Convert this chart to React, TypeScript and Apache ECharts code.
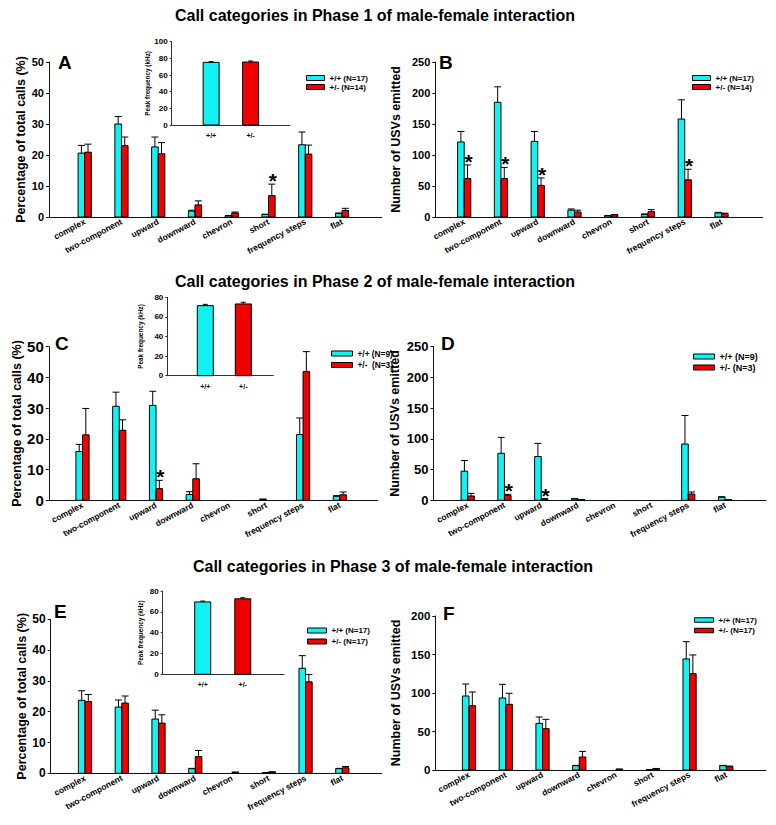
import React, { useEffect, useRef } from 'react';
import * as echarts from 'echarts';

const CATEGORIES = ['complex', 'two-component', 'upward', 'downward', 'chevron', 'short', 'frequency steps', 'flat'];
const GENOTYPES = ['+/+', '+/-'];
const TITLES = [
  'Call categories in Phase 1 of male-female interaction',
  'Call categories in Phase 2 of male-female interaction',
  'Call categories in Phase 3 of male-female interaction',
];
const Y_PCT = 'Percentage of total calls (%)';
const Y_NUM = 'Number of USVs emitted';
const Y_PEAK = 'Peak frequency (kHz)';

// Phase 1
const P1_PCT_WT = [20.6, 30.0, 22.6, 1.9, 0.4, 0.8, 23.3, 1.1];
const P1_PCT_WT_SEM = [2.5, 2.4, 3.2, 0.3, 0.1, 0.1, 4.1, 0.2];
const P1_PCT_HET = [20.9, 23.0, 20.4, 3.9, 1.3, 6.9, 20.3, 2.1];
const P1_PCT_HET_SEM = [2.6, 2.8, 3.6, 1.3, 0.3, 3.7, 2.9, 0.7];
const P1_PCT_STARS = [5];
const P1_NUM_WT = [121, 185, 122, 11, 2, 4, 158, 6.5];
const P1_NUM_WT_SEM = [17, 25, 16, 2, 0.5, 1, 31, 1];
const P1_NUM_HET = [62, 62, 51, 8, 3.5, 8.6, 60, 5.4];
const P1_NUM_HET_SEM = [22, 18, 12, 3, 0.6, 3.2, 17, 0.8];
const P1_NUM_STARS = [0, 1, 2, 6];
const P1_PEAK = [75.2, 75.6];
const P1_PEAK_SEM = [0.8, 1.2];

// Phase 2
const P2_PCT_WT = [15.9, 30.6, 30.9, 1.9, 0, 0.3, 21.4, 1.3];
const P2_PCT_WT_SEM = [2.3, 4.6, 4.6, 0.9, 0, 0.1, 5.4, 0.2];
const P2_PCT_HET = [21.3, 22.8, 3.8, 7.0, 0, 0, 41.9, 1.8];
const P2_PCT_HET_SEM = [8.6, 3.4, 2.7, 4.9, 0, 0, 6.5, 0.9];
const P2_PCT_STARS = [2];
const P2_NUM_WT = [47.4, 76.5, 71.2, 2.2, 0, 0, 91.6, 4.9];
const P2_NUM_WT_SEM = [17.3, 25.9, 21.5, 0.5, 0, 0, 46.4, 1.0];
const P2_NUM_HET = [7, 8.1, 2.2, 1.1, 0, 0, 10.2, 1.1];
const P2_NUM_HET_SEM = [4.3, 1.6, 0.3, 0.2, 0, 0, 3.3, 0.2];
const P2_NUM_STARS = [1, 2];
const P2_PEAK = [71.5, 73.2];
const P2_PEAK_SEM = [1.3, 1.7];

// Phase 3
const P3_PCT_WT = [23.7, 21.5, 17.6, 1.5, 0, 0.2, 34.1, 1.5];
const P3_PCT_WT_SEM = [3.1, 2.3, 2.9, 0.1, 0, 0.05, 4.1, 0.1];
const P3_PCT_HET = [23.3, 22.8, 16.3, 5.4, 0.3, 0.4, 29.7, 1.8];
const P3_PCT_HET_SEM = [2.3, 2.3, 2.7, 2.0, 0.1, 0.1, 2.4, 0.4];
const P3_PCT_STARS: number[] = [];
const P3_NUM_WT = [96.1, 93.5, 60.6, 5.6, 0, 0.4, 144.2, 5.6];
const P3_NUM_WT_SEM = [15.6, 17.8, 8.2, 0.4, 0, 0.1, 22.5, 0.4];
const P3_NUM_HET = [83.5, 85.3, 53.7, 16.9, 1.0, 1.7, 125.1, 4.3];
const P3_NUM_HET_SEM = [17.8, 14.3, 12.1, 7.3, 0.2, 0.3, 24.3, 0.8];
const P3_NUM_STARS: number[] = [];
const P3_PEAK = [69.5, 72.5];
const P3_PEAK_SEM = [0.8, 1.0];

const FONT = '"Liberation Sans", Arial, Helvetica, sans-serif';
const CYAN = '#12f2f2';
const RED = '#f00000';
const SP = 36.76;

const MAIN = [
  { letter: 'A', wt: P1_PCT_WT, wtSem: P1_PCT_WT_SEM, het: P1_PCT_HET, hetSem: P1_PCT_HET_SEM, stars: P1_PCT_STARS,
    names: ['+/+ (N=17)', '+/- (N=14)'], yName: Y_PCT, yMax: 50, yStep: 10,
    box: { left: 49, top: 62, right: 381.7, bottom: 217, first: 84.7 }, tickFont: 11, nameGap: 19,
    lg: { left: 306, top: 73.5, w: 18, h: 5, font: 8, lh: 9 }, lt: { x: 58, y: 62 } },
  { letter: 'B', wt: P1_NUM_WT, wtSem: P1_NUM_WT_SEM, het: P1_NUM_HET, hetSem: P1_NUM_HET_SEM, stars: P1_NUM_STARS,
    names: ['+/+ (N=17)', '+/- (N=14)'], yName: Y_NUM, yMax: 250, yStep: 50,
    box: { left: 435.3, top: 62, right: 762.7, bottom: 217, first: 464.2 }, tickFont: 11, nameGap: 33,
    lg: { left: 692, top: 73.5, w: 18, h: 5, font: 8, lh: 9 }, lt: { x: 439, y: 62 } },
  { letter: 'C', wt: P2_PCT_WT, wtSem: P2_PCT_WT_SEM, het: P2_PCT_HET, hetSem: P2_PCT_HET_SEM, stars: P2_PCT_STARS,
    names: ['+/+ (N=9)', '+/-  (N=3)'], yName: Y_PCT, yMax: 50, yStep: 10,
    box: { left: 48.8, top: 346.7, right: 378, bottom: 500.3, first: 82.5 }, tickFont: 15, nameGap: 21,
    lg: { left: 331, top: 347.75, w: 21, h: 5, font: 8.3, lh: 11.5 }, lt: { x: 55, y: 343 } },
  { letter: 'D', wt: P2_NUM_WT, wtSem: P2_NUM_WT_SEM, het: P2_NUM_HET, hetSem: P2_NUM_HET_SEM, stars: P2_NUM_STARS,
    names: ['+/+ (N=9)', '+/- (N=3)'], yName: Y_NUM, yMax: 250, yStep: 50,
    box: { left: 433.5, top: 346.7, right: 766, bottom: 500.3, first: 467.7 }, tickFont: 13, nameGap: 32,
    lg: { left: 693, top: 351, w: 21, h: 5, font: 9, lh: 11 }, lt: { x: 441, y: 343 } },
  { letter: 'E', wt: P3_PCT_WT, wtSem: P3_PCT_WT_SEM, het: P3_PCT_HET, hetSem: P3_PCT_HET_SEM, stars: P3_PCT_STARS,
    names: ['+/+ (N=17)', '+/- (N=17)'], yName: Y_PCT, yMax: 50, yStep: 10,
    box: { left: 50.7, top: 619.3, right: 381.7, bottom: 773.3, first: 85 }, tickFont: 12, nameGap: 21,
    lg: { left: 307, top: 625, w: 19, h: 5, font: 8, lh: 11 }, lt: { x: 54, y: 611.7 } },
  { letter: 'F', wt: P3_NUM_WT, wtSem: P3_NUM_WT_SEM, het: P3_NUM_HET, hetSem: P3_NUM_HET_SEM, stars: P3_NUM_STARS,
    names: ['+/+ (N=17)', '+/- (N=17)'], yName: Y_NUM, yMax: 200, yStep: 50,
    box: { left: 435.3, top: 616, right: 766, bottom: 770, first: 469 }, tickFont: 11.5, nameGap: 33,
    lg: { left: 694, top: 614.75, w: 19, h: 4.5, font: 8, lh: 10.5 }, lt: { x: 443, y: 613 } },
];

const INSETS = [
  { vals: P1_PEAK, sem: P1_PEAK_SEM, box: { left: 171.7, top: 41.7, right: 290, bottom: 125 }, xMax: 3, yMax: 100, nameGap: 20.5 },
  { vals: P2_PEAK, sem: P2_PEAK_SEM, box: { left: 167.3, top: 297.3, right: 273.3, bottom: 375.7 }, xMax: 2.79, yMax: 80, nameGap: 24 },
  { vals: P3_PEAK, sem: P3_PEAK_SEM, box: { left: 162.7, top: 591, right: 284, bottom: 674.3 }, xMax: 3.03, yMax: 80, nameGap: 19.5 },
];

const TITLE_POS = [
  { x: 375, y: 15 },
  { x: 375, y: 281.7 },
  { x: 393, y: 566.7 },
];

function makeRenderer(mode: 'left' | 'right' | 'center', barW: number, capHalf: number) {
  return (params: any, api: any) => {
    const x = api.value(0);
    const v = api.value(1);
    const e = api.value(2);
    const star = api.value(3);
    const ci = api.value(4);
    const base = api.coord([x, 0]);
    const top = api.coord([x, v]);
    const et = api.coord([x, v + e]);
    const left = mode === 'left' ? base[0] - barW : mode === 'right' ? base[0] : base[0] - barW / 2;
    const cx = left + barW / 2;
    const fill = mode === 'center' ? (ci ? RED : CYAN) : mode === 'left' ? CYAN : RED;
    const children: any[] = [];
    if (v > 0) {
      children.push({
        type: 'rect',
        shape: { x: left, y: top[1], width: barW, height: Math.max(base[1] - top[1], 0.8) },
        style: { fill, stroke: '#000', lineWidth: 1 },
      });
    }
    if (e > 0) {
      children.push({ type: 'line', shape: { x1: cx, y1: top[1], x2: cx, y2: et[1] }, style: { stroke: '#000', lineWidth: 1 } });
      children.push({ type: 'line', shape: { x1: cx - capHalf, y1: et[1], x2: cx + capHalf, y2: et[1] }, style: { stroke: '#000', lineWidth: 1 } });
    }
    if (star) {
      children.push({
        type: 'text',
        style: { text: '*', x: cx + 1, y: et[1] - 3.5, fill: '#000', fontSize: 21, fontWeight: 'bold', fontFamily: FONT, align: 'center', verticalAlign: 'middle' },
      });
    }
    return { type: 'group', children };
  };
}

function buildOption() {
  const grid: any[] = [];
  const xAxis: any[] = [];
  const yAxis: any[] = [];
  const series: any[] = [];
  const legend: any[] = [];
  const graphic: any[] = [];

  MAIN.forEach((p, i) => {
    const b = p.box;
    grid.push({ left: b.left, top: b.top, width: b.right - b.left, height: b.bottom - b.top, containLabel: false, outerBoundsMode: 'none' });
    xAxis.push({
      gridIndex: i, type: 'value',
      min: -(b.first - b.left) / SP, max: (b.right - b.first) / SP,
      axisLine: { show: true, onZero: false, lineStyle: { color: '#111', width: 1 } },
      axisTick: { show: false }, splitLine: { show: false },
      axisLabel: { show: false },
    });
    yAxis.push({
      gridIndex: i, type: 'value', min: 0, max: p.yMax, interval: p.yStep,
      axisLine: { show: true, onZero: false, lineStyle: { color: '#111', width: 1 } },
      axisTick: { show: true, length: 3, lineStyle: { color: '#111' } },
      splitLine: { show: false },
      axisLabel: { fontSize: p.tickFont, fontWeight: 'bold', fontFamily: FONT, color: '#000', margin: 5 },
      name: p.yName, nameLocation: 'middle', nameGap: p.nameGap,
      nameTextStyle: { fontSize: 12.5, fontWeight: 'bold', fontFamily: FONT, color: '#000' },
    });
    const mk = (vals: number[], sems: number[], stars: number[]) =>
      vals.map((v, k) => [k, v, sems[k], stars.includes(k) ? 1 : 0, 0]);
    series.push({
      type: 'custom', name: p.names[0], xAxisIndex: i, yAxisIndex: i,
      itemStyle: { color: CYAN, borderColor: '#000', borderWidth: 1 },
      renderItem: makeRenderer('left', 6.6, 3.5),
      data: mk(p.wt, p.wtSem, []),
    });
    series.push({
      type: 'custom', name: p.names[1], xAxisIndex: i, yAxisIndex: i,
      itemStyle: { color: RED, borderColor: '#000', borderWidth: 1 },
      renderItem: makeRenderer('right', 6.6, 3.5),
      data: mk(p.het, p.hetSem, p.stars),
    });
    legend.push({
      data: p.names, orient: 'vertical', left: p.lg.left, top: p.lg.top, padding: 0, itemGap: 0,
      itemWidth: p.lg.w, itemHeight: p.lg.h, icon: 'rect', selectedMode: false,
      itemStyle: { borderColor: '#000', borderWidth: 1 },
      textStyle: { fontSize: p.lg.font, fontWeight: 'bold', fontFamily: FONT, color: '#000', lineHeight: p.lg.lh },
    });
    graphic.push({
      type: 'text', x: p.lt.x, y: p.lt.y,
      style: { text: p.letter, fontSize: 19, fontWeight: 'bold', fontFamily: FONT, fill: '#000', align: 'left', verticalAlign: 'middle' },
    });
  });

  // category label grids: one band per category, centred on the bar pairs
  MAIN.forEach((p) => {
    const gi = grid.length;
    const b = p.box;
    grid.push({ left: b.first - SP / 2, top: b.top, width: SP * CATEGORIES.length, height: b.bottom - b.top, containLabel: false, outerBoundsMode: 'none' });
    xAxis.push({
      gridIndex: gi, type: 'category', data: CATEGORIES, boundaryGap: true,
      axisLine: { show: false }, axisTick: { show: false }, splitLine: { show: false },
      axisLabel: { interval: 0, rotate: 28, fontSize: 8.5, fontWeight: 'bold', fontFamily: FONT, color: '#000', margin: 4 },
    });
    yAxis.push({ gridIndex: gi, type: 'value', min: 0, max: p.yMax, show: false });
  });

  INSETS.forEach((p) => {
    const gi = grid.length;
    const b = p.box;
    grid.push({ left: b.left, top: b.top, width: b.right - b.left, height: b.bottom - b.top, containLabel: false, outerBoundsMode: 'none' });
    xAxis.push({
      gridIndex: gi, type: 'value', min: 0, max: p.xMax,
      axisLine: { show: true, onZero: false, lineStyle: { color: '#333', width: 1 } },
      axisTick: { show: false }, splitLine: { show: false },
      axisLabel: {
        customValues: [1, 2],
        formatter: (v: number) => GENOTYPES[Math.round(v) - 1] ?? '',
        fontSize: 7, fontWeight: 'bold', fontFamily: FONT, color: '#000', margin: 7,
      },
    });
    yAxis.push({
      gridIndex: gi, type: 'value', min: 0, max: p.yMax, interval: 20,
      axisLine: { show: true, onZero: false, lineStyle: { color: '#333', width: 1 } },
      axisTick: { show: true, length: 2, lineStyle: { color: '#333' } },
      splitLine: { show: false },
      axisLabel: { fontSize: 8, fontWeight: 'bold', fontFamily: FONT, color: '#000', margin: 4 },
      name: Y_PEAK, nameLocation: 'middle', nameGap: p.nameGap,
      nameTextStyle: { fontSize: 6.4, fontWeight: 'bold', fontFamily: FONT, color: '#000' },
    });
    series.push({
      type: 'custom', name: 'Peak frequency', xAxisIndex: gi, yAxisIndex: gi,
      renderItem: makeRenderer('center', 16, 2.5),
      data: p.vals.map((v, k) => [k + 1, v, p.sem[k], 0, k]),
    });
  });

  TITLES.forEach((t, k) => {
    graphic.push({
      type: 'text', x: TITLE_POS[k].x, y: TITLE_POS[k].y,
      style: { text: t, fontSize: 16, fontWeight: 'bold', fontFamily: FONT, fill: '#000', align: 'center', verticalAlign: 'middle' },
    });
  });

  return { animation: false, backgroundColor: '#fff', grid, xAxis, yAxis, series, legend, graphic };
}

export default function App() {
  const ref = useRef<HTMLDivElement>(null);
  useEffect(() => {
    if (!ref.current) return;
    const chart = echarts.init(ref.current, undefined, { renderer: 'svg' });
    chart.setOption(buildOption() as any);
    return () => chart.dispose();
  }, []);
  return <div ref={ref} style={{ position: 'absolute', left: 0, top: 0, width: 776, height: 825, background: '#fff' }} />;
}
